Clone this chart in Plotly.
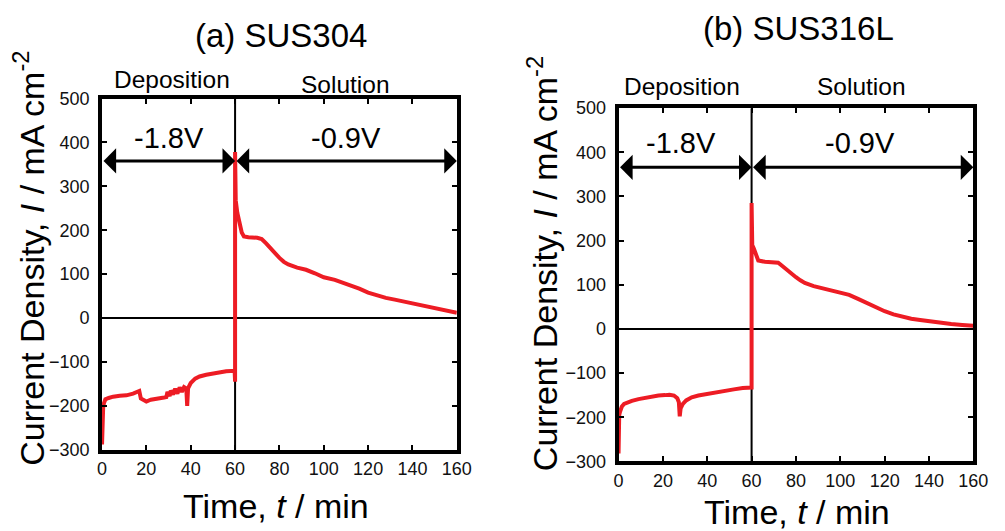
import plotly.graph_objects as go

# ---------------- data ----------------
# (a) SUS304
t_a = [0, 0.15, 0.3, 0.5, 0.8, 1.5, 3, 5, 8, 11, 14, 16, 16.8, 17.5, 19, 20, 22, 24, 26, 28,
       29, 29.5, 30.5, 31, 32, 33, 34, 35, 36, 37, 38, 38.4, 38.8, 40, 42, 44, 47, 50, 53, 56,
       59.8, 60, 60, 60.3, 61, 62, 63, 64, 66, 70, 72, 74, 76, 78, 80, 82, 84, 88, 92, 96,
       100, 105, 108, 112, 116, 120, 124, 128, 132, 136, 140, 144, 148, 152, 156, 160]
i_a = [-288, -240, -265, -205, -195, -185, -182, -179, -177, -176, -172, -168, -166, -183, -188, -190,
       -186, -185, -184, -181, -180, -168, -178, -165, -174, -161, -172, -158, -168, -157, -160, -200,
       -160, -148, -138, -133, -129, -126, -123, -121, -120, -145, 378, 268, 240, 215, 195, 186, 184,
       183, 180, 170, 158, 147, 137, 128, 122, 115, 110, 102, 93, 87, 82, 74, 67, 58, 51, 46, 42,
       38, 34, 30, 26, 21, 16, 12]

# (b) SUS316L
t_b = [0, 0.05, 0.3, 0.7, 1.5, 2.5, 4, 6, 9, 12, 15, 18, 21, 23, 25, 26.5, 27.2, 27.6, 28, 29,
       30.5, 33, 36, 40, 44, 48, 52, 56, 59.7, 60, 60, 60.3, 61, 62, 63, 66, 70, 72, 74, 76,
       78, 80, 82, 84, 88, 92, 96, 100, 104, 108, 112, 116, 120, 124, 128, 132, 136, 140, 145,
       150, 155, 160]
i_b = [-282, -205, -195, -187, -176, -170, -166, -163, -159, -156, -154, -151, -150, -149, -151,
       -157, -166, -198, -180, -170, -162, -155, -151, -147, -143, -140, -137, -134, -133, -133,
       285, 190, 182, 165, 155, 152, 152, 150, 142, 133, 124, 117, 110, 104, 97, 92, 88, 84, 77,
       68, 58, 49, 40, 33, 27, 23, 20, 17, 14, 11, 9, 7]

panel_titles = ["(a) SUS304", "(b) SUS316L"]
phase_labels = ["Deposition", "Solution"]
potential_labels = ["-1.8V", "-0.9V"]
step_time = 60
t_end = 160
arrow_level = [358, 366]
x_ticks = [0, 20, 40, 60, 80, 100, 120, 140, 160]
y_ticks = [-300, -200, -100, 0, 100, 200, 300, 400, 500]

# ---------------- layout helpers ----------------
W, H = 1005, 531
FONT = "Liberation Sans, Arial, sans-serif"
RED = "#ed1c24"

def px(x):
    return x / W

def py(y):
    return 1 - y / H

panels = [
    dict(x0=99, x1=461, y0=92, y1=457),
    dict(x0=626, x1=988, y0=102, y1=469),
]

fig = go.Figure()

fig.add_trace(go.Scatter(x=t_a, y=i_a, mode="lines", line=dict(color=RED, width=4),
                         xaxis="x", yaxis="y", showlegend=False))
fig.add_trace(go.Scatter(x=t_b, y=i_b, mode="lines", line=dict(color=RED, width=4),
                         xaxis="x2", yaxis="y2", showlegend=False))

axis_common = dict(
    showline=True, linecolor="black", linewidth=4, mirror="allticks",
    ticks="inside", ticklen=5, tickwidth=1.5, tickcolor="black",
    showgrid=False, tickfont=dict(family=FONT, size=18, color="#111"),
)

for k, p in enumerate(panels):
    sfx = "" if k == 0 else "2"
    fig.update_layout(**{
        "xaxis" + sfx: dict(axis_common, domain=[px(p["x0"]), px(p["x1"])],
                            range=[0, t_end], tickvals=x_ticks, zeroline=False,
                            anchor="y" + sfx),
        "yaxis" + sfx: dict(axis_common, domain=[py(p["y1"]), py(p["y0"])],
                            range=[y_ticks[0], y_ticks[-1]], tickvals=y_ticks,
                            zeroline=True, zerolinecolor="black", zerolinewidth=2,
                            ticklabelstandoff=5, anchor="x" + sfx),
    })

shapes = []
annotations = []

# per-panel text positions (pixels)
title_pos = [(282, 27), (810, 19)]
ytitle_pos = [(24, 258), (548, 264)]
xtitle_pos = [(276, 515), (808, 522)]
phase_pos = [[(170, 72), (347, 77)], [(691, 80), (874, 80)]]
pot_pos = [[(30, 409), (110, 409)], [(28.3, 420), (108.7, 420)]]

for k, p in enumerate(panels):
    sfx = "" if k == 0 else "2"
    xr, yr = "x" + sfx, "y" + sfx
    shapes.append(dict(type="line", xref=xr, yref=yr, x0=step_time, x1=step_time,
                       y0=y_ticks[0], y1=y_ticks[-1], line=dict(color="black", width=2),
                       layer="below"))
    annotations.append(dict(text=panel_titles[k], x=px(title_pos[k][0]), y=py(title_pos[k][1]),
                            xref="paper", yref="paper", showarrow=False,
                            font=dict(family=FONT, size=33, color="black"),
                            xanchor="center", yanchor="middle"))
    annotations.append(dict(text="Current Density, <i>I</i> / mA cm<sup>-2</sup>",
                            x=px(ytitle_pos[k][0]), y=py(ytitle_pos[k][1]),
                            xref="paper", yref="paper", showarrow=False, textangle=-90,
                            font=dict(family=FONT, size=34, color="black"),
                            xanchor="center", yanchor="middle"))
    annotations.append(dict(text="Time, <i>t</i> / min",
                            x=px(xtitle_pos[k][0]), y=py(xtitle_pos[k][1]),
                            xref="paper", yref="paper", showarrow=False,
                            font=dict(family=FONT, size=34, color="black"),
                            xanchor="center", yanchor="middle"))
    for j in range(2):
        annotations.append(dict(text=phase_labels[j], x=px(phase_pos[k][j][0]),
                                y=py(phase_pos[k][j][1]),
                                xref="paper", yref="paper", showarrow=False,
                                font=dict(family=FONT, size=24.5, color="black"),
                                xanchor="center", yanchor="middle"))
        annotations.append(dict(text=potential_labels[j], x=pot_pos[k][j][0], y=pot_pos[k][j][1],
                                xref=xr, yref=yr, showarrow=False,
                                font=dict(family=FONT, size=29, color="black"),
                                xanchor="center", yanchor="middle"))
    # double arrows
    for (a0, a1) in [(0, step_time), (step_time, t_end)]:
        annotations.append(dict(text="", x=a1, y=arrow_level[k], ax=a0, ay=arrow_level[k],
                                xref=xr, yref=yr, axref=xr, ayref=yr,
                                showarrow=True, arrowhead=1, startarrowhead=1,
                                arrowside="end+start", arrowsize=1.4, startarrowsize=1.4,
                                arrowwidth=3, arrowcolor="black",
                                standoff=0, startstandoff=0))

fig.update_layout(width=W, height=H, margin=dict(l=0, r=0, t=0, b=0),
                  plot_bgcolor="white", paper_bgcolor="white",
                  shapes=shapes, annotations=annotations,
                  font=dict(family=FONT, color="black"))

fig.write_html("out.html")
